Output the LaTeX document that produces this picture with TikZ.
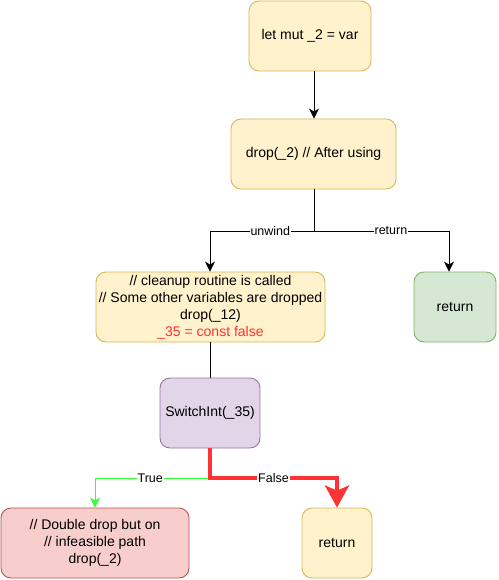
\documentclass[tikz,border=0pt]{standalone}
\usepackage{fontspec}
\setmainfont{Liberation Sans}
\usetikzlibrary{arrows.meta}
\definecolor{yfill}{HTML}{FFF2CC}\definecolor{ystroke}{HTML}{D6B656}
\definecolor{gfill}{HTML}{D5E8D4}\definecolor{gstroke}{HTML}{82B366}
\definecolor{pfill}{HTML}{E1D5E7}\definecolor{pstroke}{HTML}{9673A6}
\definecolor{rfill}{HTML}{F8CECC}\definecolor{rstroke}{HTML}{B85450}
\definecolor{redtxt}{HTML}{FF3333}\definecolor{greenln}{HTML}{33FF33}
\begin{document}
\begin{tikzpicture}[x=1pt,y=-1pt,
  box/.style={draw, rounded corners=10pt, minimum height=70pt, inner sep=2pt, align=center, font=\fontsize{14}{17}\selectfont, line width=0.9pt},
  ybox/.style={box, fill=yfill, draw=ystroke},
  lbl/.style={fill=white, inner sep=1pt, font=\fontsize{12.5}{14}\selectfont},
  tip/.style={-{Stealth[length=10pt,width=10pt,inset=3pt]}},
  arr/.style={tip, line width=0.9pt}]
\useasboundingbox (0,0) rectangle (498,580);
\node[ybox, minimum width=122pt] (a) at (310,36) {let mut \_2 = var};
\node[ybox, minimum width=165pt] (b) at (313.5,154) {drop(\_2) // After using};
\node[ybox, minimum width=229pt] (c) at (210.5,307) {// cleanup routine is called\\// Some other variables are dropped\\drop(\_12)\\\textcolor{redtxt}{\_35 = const false}};
\node[box, fill=gfill, draw=gstroke, minimum width=82pt] (d) at (455,307) {return};
\node[box, fill=pfill, draw=pstroke, minimum width=100pt] (e) at (210,413) {SwitchInt(\_35)};
\node[box, fill=rfill, draw=rstroke, minimum width=188pt] (f) at (95,543) {// Double drop but on\\// infeasible path\\drop(\_2)};
\node[ybox, minimum width=70pt] (g) at (337,543) {return};
\coordinate (bs) at (314,231);
\coordinate (es) at (210,478);
\draw[arr] (a.south -| 314,0) -- (b.north -| 314,0);
\draw[arr] (b.south -| bs) -- (bs) -| node[lbl, pos=0.21] {unwind} (c.north -| 210,0);
\draw[arr] (bs) -| node[lbl, pos=0.285] {return} (d.north -| 449,0);
\draw[line width=0.9pt] (c.south -| e) -- (e.north);
\draw[greenln, arr] (e.south) -- (es) -| node[lbl, text=black, pos=0.26] {True} (f.north);
\draw[redtxt, line width=4pt, -{Stealth[length=22pt,width=24pt,inset=5pt]}] (e.south) -- (es) -| node[lbl, text=black, pos=0.25] {False} (g.north);
\end{tikzpicture}
\end{document}
